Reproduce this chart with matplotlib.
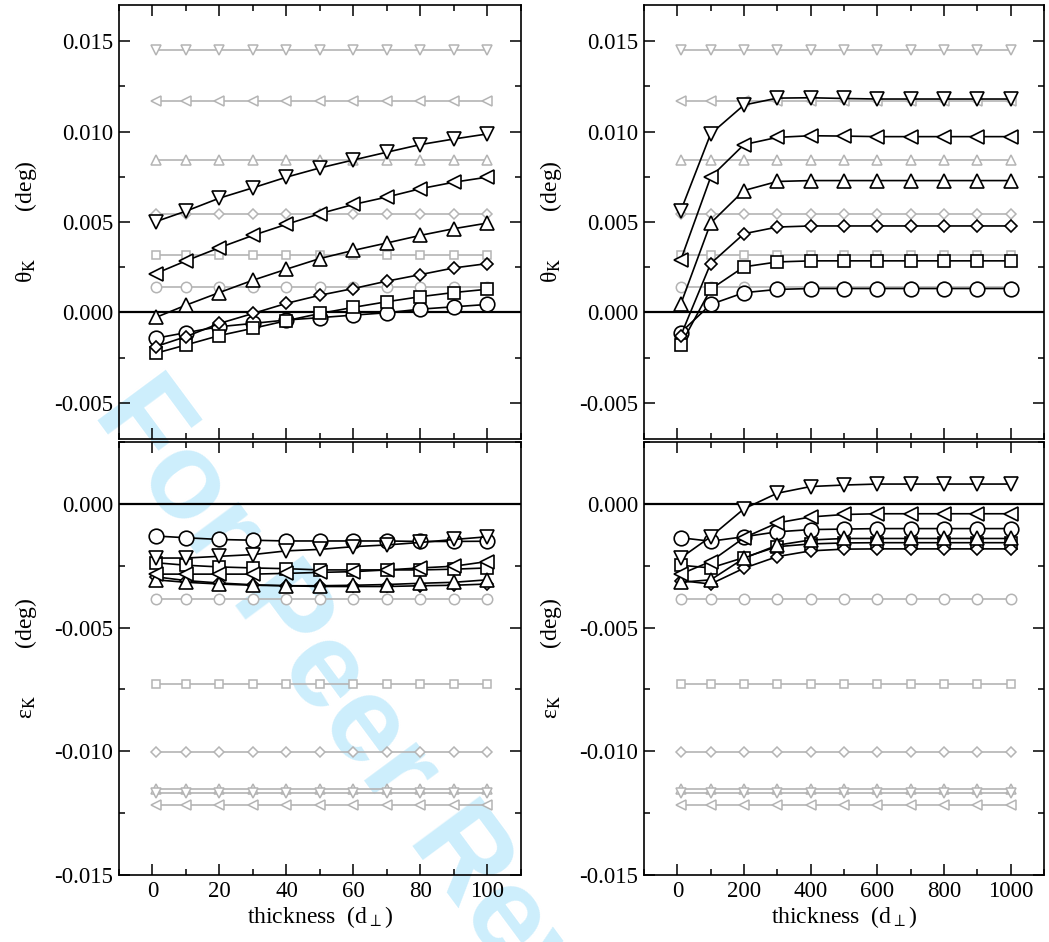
import numpy as np
import matplotlib
matplotlib.use('Agg')
import matplotlib.pyplot as plt
from matplotlib.ticker import MultipleLocator, FormatStrFormatter

plt.rcParams['font.family'] = ['Liberation Serif', 'DejaVu Serif']
plt.rcParams['mathtext.fontset'] = 'stix'
plt.rcParams['axes.unicode_minus'] = False

# thickness values
x_thin = [1, 10, 20, 30, 40, 50, 60, 70, 80, 90, 100]
x_thick = [10, 100, 200, 300, 400, 500, 600, 700, 800, 900, 1000]

# theta_K, thin range (left top)
th_thin_circle = [-0.00143, -0.00112, -0.00079, -0.00061, -0.00042, -0.00029, -0.00015, -0.00002, 0.00018, 0.00031, 0.00044]
th_thin_square = [-0.00226, -0.0018, -0.00128, -0.00088, -0.00046, -0.00006, 0.00028, 0.00059, 0.00087, 0.0011, 0.00128]
th_thin_diamond = [-0.00189, -0.00134, -0.00061, -0.00006, 0.0005, 0.00095, 0.00132, 0.00173, 0.00209, 0.00246, 0.0027]
th_thin_up = [-0.00028, 0.0004, 0.0011, 0.00178, 0.00239, 0.00298, 0.00343, 0.00384, 0.00426, 0.00463, 0.00494]
th_thin_left = [0.00215, 0.00285, 0.00358, 0.00426, 0.00487, 0.00546, 0.00597, 0.00638, 0.00684, 0.0072, 0.00748]
th_thin_down = [0.00502, 0.0056, 0.00632, 0.00689, 0.00748, 0.00799, 0.00843, 0.00886, 0.00928, 0.00959, 0.00987]

# theta_K, thick range (right top)
th_thick_circle = [-0.00112, 0.00044, 0.00109, 0.00127, 0.00132, 0.00132, 0.00132, 0.00132, 0.00132, 0.00132, 0.00132]
th_thick_square = [-0.0018, 0.00128, 0.00252, 0.00279, 0.00285, 0.00285, 0.00285, 0.00285, 0.00285, 0.00285, 0.00285]
th_thick_diamond = [-0.0013, 0.0027, 0.00435, 0.00472, 0.00478, 0.00478, 0.00478, 0.00478, 0.00478, 0.00478, 0.00478]
th_thick_up = [0.00044, 0.00494, 0.00674, 0.00724, 0.00729, 0.00729, 0.00729, 0.00729, 0.00729, 0.00729, 0.00729]
th_thick_left = [0.00288, 0.00748, 0.00928, 0.00968, 0.00977, 0.00975, 0.00972, 0.00972, 0.00972, 0.00972, 0.00972]
th_thick_down = [0.0056, 0.00987, 0.01147, 0.01185, 0.01187, 0.01183, 0.0118, 0.0118, 0.0118, 0.0118, 0.0118]

# eps_K, thin range (left bottom)
ep_thin_circle = [-0.0013, -0.00137, -0.00144, -0.00147, -0.0015, -0.0015, -0.0015, -0.0015, -0.00152, -0.00152, -0.00151]
ep_thin_square = [-0.00238, -0.00248, -0.00255, -0.00259, -0.00262, -0.00267, -0.00267, -0.00267, -0.00267, -0.00264, -0.00259]
ep_thin_diamond = [-0.00295, -0.0031, -0.0032, -0.00327, -0.00331, -0.00334, -0.00334, -0.00334, -0.00331, -0.00329, -0.00324]
ep_thin_up = [-0.00307, -0.00317, -0.00324, -0.00329, -0.00331, -0.00331, -0.00329, -0.00326, -0.00321, -0.00317, -0.00307]
ep_thin_left = [-0.00284, -0.00284, -0.00284, -0.00284, -0.00281, -0.00277, -0.00274, -0.00267, -0.00259, -0.00252, -0.00233]
ep_thin_down = [-0.00219, -0.00219, -0.00212, -0.00205, -0.0019, -0.00184, -0.00173, -0.00166, -0.00156, -0.00144, -0.00133]

# eps_K, thick range (right bottom)
ep_thick_circle = [-0.00137, -0.00151, -0.00133, -0.00113, -0.00104, -0.00102, -0.001, -0.001, -0.001, -0.001, -0.001]
ep_thick_square = [-0.00248, -0.00259, -0.00217, -0.00173, -0.00162, -0.00158, -0.00157, -0.00157, -0.00157, -0.00157, -0.00157]
ep_thick_diamond = [-0.0031, -0.00324, -0.0026, -0.00213, -0.0019, -0.00183, -0.00182, -0.00182, -0.00182, -0.00182, -0.00182]
ep_thick_up = [-0.00317, -0.00307, -0.0022, -0.00167, -0.00146, -0.0014, -0.0014, -0.0014, -0.0014, -0.0014, -0.0014]
ep_thick_left = [-0.00284, -0.00233, -0.00137, -0.00077, -0.00053, -0.00043, -0.0004, -0.0004, -0.0004, -0.0004, -0.0004]
ep_thick_down = [-0.00219, -0.00133, -0.0002, 0.00043, 0.0007, 0.00076, 0.0008, 0.0008, 0.0008, 0.0008, 0.0008]

# constant reference levels (gray)
th_ref = {'o': 0.00138, 's': 0.00316, 'D': 0.00546, '^': 0.00843, '<': 0.01167, 'v': 0.01452}
ep_ref = {'o': -0.00386, 's': -0.00728, 'D': -0.01001, '^': -0.01153, 'v': -0.0117, '<': -0.01218}

black_ms = {'o': 10.5, 's': 9, 'D': 6.6, '^': 10.5, '<': 10.5, 'v': 10.5}
gray_ms = {'o': 7.5, 's': 6, 'D': 4.8, '^': 7, '<': 7, 'v': 7}
GRAY = '#b4b4b4'

fig = plt.figure(figsize=(10.49, 9.42), dpi=100)
fig.patch.set_facecolor('white')

# watermark
fig.text(0.112, 0.581, 'For Peer Review', fontsize=88, fontweight='bold',
         family='Liberation Sans', color='#cdeefc', rotation=-53.5,
         rotation_mode='anchor', ha='left', va='center', zorder=-1)

ax_tl = fig.add_axes([0.1134, 0.534, 0.3832, 0.4607])
ax_tr = fig.add_axes([0.6139, 0.534, 0.3813, 0.4607])
ax_bl = fig.add_axes([0.1134, 0.0711, 0.3832, 0.4597])
ax_br = fig.add_axes([0.6139, 0.0711, 0.3813, 0.4597])

panels = [
    (ax_tl, x_thin, th_ref, [th_thin_circle, th_thin_square, th_thin_diamond, th_thin_up, th_thin_left, th_thin_down]),
    (ax_tr, x_thick, th_ref, [th_thick_circle, th_thick_square, th_thick_diamond, th_thick_up, th_thick_left, th_thick_down]),
    (ax_bl, x_thin, ep_ref, [ep_thin_circle, ep_thin_square, ep_thin_diamond, ep_thin_up, ep_thin_left, ep_thin_down]),
    (ax_br, x_thick, ep_ref, [ep_thick_circle, ep_thick_square, ep_thick_diamond, ep_thick_up, ep_thick_left, ep_thick_down]),
]
markers = ['o', 's', 'D', '^', '<', 'v']

for ax, x, ref, series in panels:
    ax.set_facecolor('none')
    ax.axhline(0, color='black', lw=1.6, zorder=2)
    for m in markers:
        ax.plot(x, [ref[m]] * len(x), color=GRAY, lw=1.2, marker=m, ms=gray_ms[m],
                mfc='white', mec=GRAY, mew=1.1, zorder=3)
    for m, y in zip(markers, series):
        ax.plot(x, y, color='black', lw=1.2, marker=m, ms=black_ms[m],
                mfc='white', mec='black', mew=1.2, zorder=4)
    for s in ax.spines.values():
        s.set_linewidth(1.2)
    ax.tick_params(which='both', direction='in', top=True, right=True, width=1.1,
                   labelsize=16.5, pad=4)
    ax.tick_params(which='major', length=8)
    ax.tick_params(which='minor', length=4)
    ax.yaxis.set_major_formatter(FormatStrFormatter('%.3f'))
    ax.yaxis.set_major_locator(MultipleLocator(0.005))
    ax.yaxis.set_minor_locator(MultipleLocator(0.0025))

for ax in (ax_tl, ax_bl):
    ax.set_xlim(-10, 110)
    ax.xaxis.set_major_locator(MultipleLocator(20))
    ax.xaxis.set_minor_locator(MultipleLocator(10))
for ax in (ax_tr, ax_br):
    ax.set_xlim(-100, 1100)
    ax.xaxis.set_major_locator(MultipleLocator(200))
    ax.xaxis.set_minor_locator(MultipleLocator(100))

for ax in (ax_tl, ax_tr):
    ax.set_ylim(-0.007, 0.017)
    ax.tick_params(labelbottom=False)
    ax.set_ylabel('θ$_{\\mathrm{K}}$' + ' ' * 8 + '(deg)', fontsize=17)
    ax.yaxis.set_label_coords(-0.2, 0.5)
for ax in (ax_bl, ax_br):
    ax.set_ylim(-0.015, 0.0025)
    ax.set_ylabel('ε$_{\\mathrm{K}}$' + ' ' * 8 + '(deg)', fontsize=17)
    ax.yaxis.set_label_coords(-0.2, 0.5)
    ax.set_xlabel('thickness  (d$_{\\perp}$)', fontsize=17, labelpad=2)

fig.savefig('out.png', dpi=100, facecolor='white')
